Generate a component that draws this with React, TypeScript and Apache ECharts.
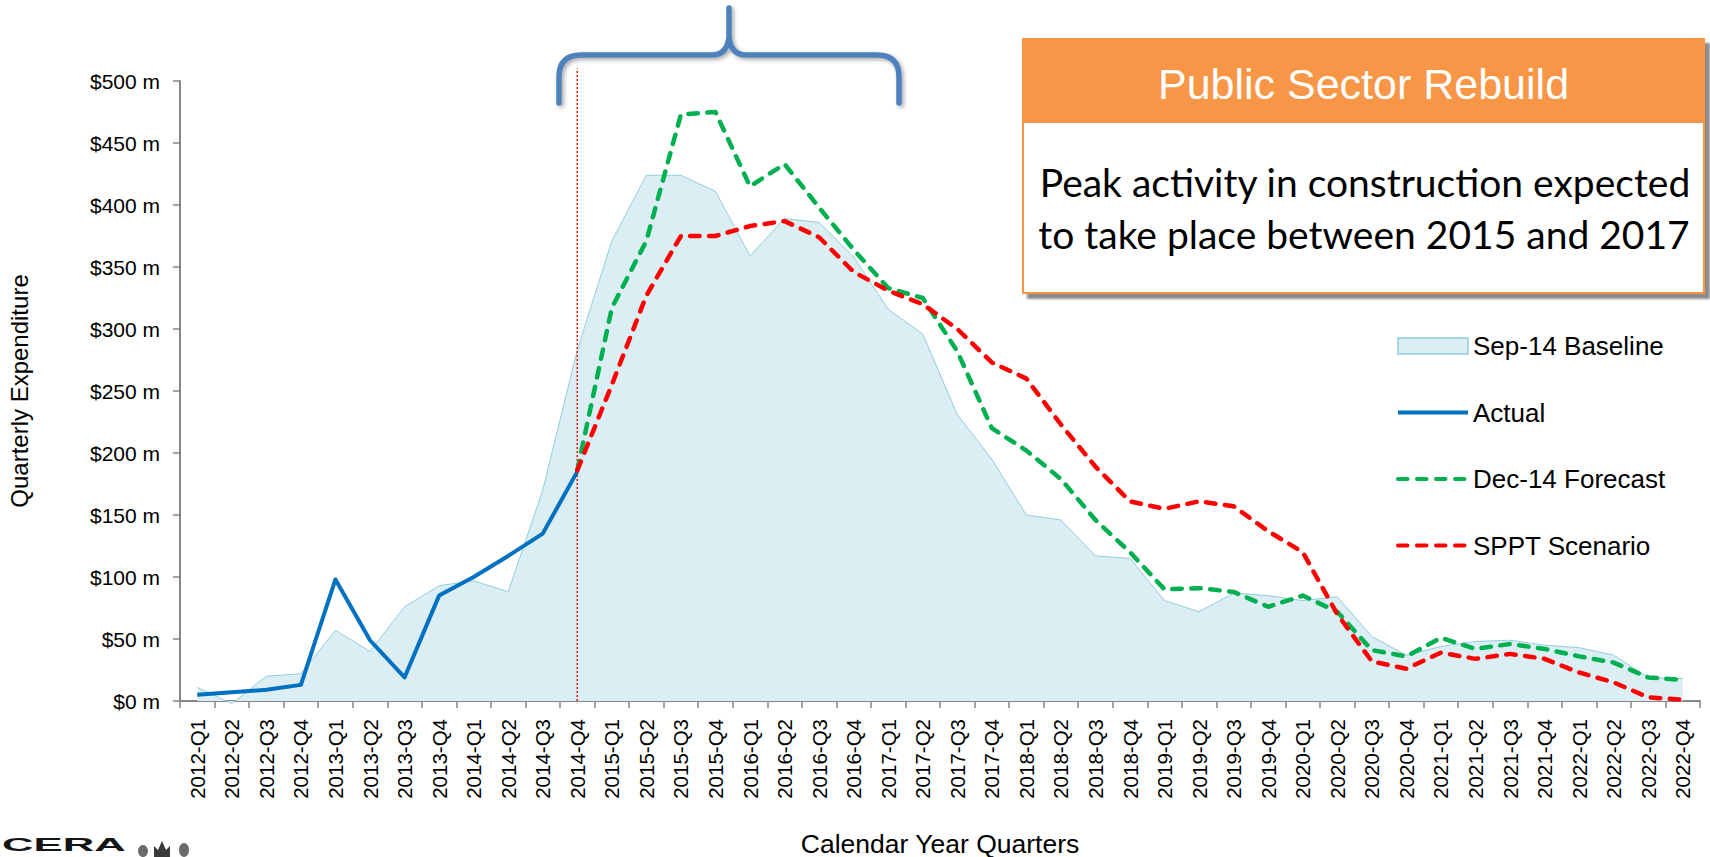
import React, { useEffect, useRef } from "react";
import * as echarts from "echarts";

const categories = [
  "2012-Q1", "2012-Q2", "2012-Q3", "2012-Q4",
  "2013-Q1", "2013-Q2", "2013-Q3", "2013-Q4",
  "2014-Q1", "2014-Q2", "2014-Q3", "2014-Q4",
  "2015-Q1", "2015-Q2", "2015-Q3", "2015-Q4",
  "2016-Q1", "2016-Q2", "2016-Q3", "2016-Q4",
  "2017-Q1", "2017-Q2", "2017-Q3", "2017-Q4",
  "2018-Q1", "2018-Q2", "2018-Q3", "2018-Q4",
  "2019-Q1", "2019-Q2", "2019-Q3", "2019-Q4",
  "2020-Q1", "2020-Q2", "2020-Q3", "2020-Q4",
  "2021-Q1", "2021-Q2", "2021-Q3", "2021-Q4",
  "2022-Q1", "2022-Q2", "2022-Q3", "2022-Q4",
];

// Sep-14 Baseline ($m), every quarter
const baselineValues = [
  11, -2, 20, 22, 57, 40, 76, 93, 97, 88, 170, 283,
  371, 424, 424, 411, 359, 389, 386, 358, 316, 296, 231, 195,
  150, 146, 117, 115, 81, 72, 87, 85, 81, 84, 52, 37,
  44, 48, 49, 45, 43, 37, 19, 18,
];

// Actual ($m), 2012-Q1 .. 2014-Q4
const actualStart = 0;
const actualValues = [5, 7, 9, 13, 98, 49, 19, 85, 100, 117, 135, 185];

// Dec-14 Forecast ($m), 2014-Q4 .. 2022-Q4
const forecastStart = 11;
const forecastValues = [
  186, 317, 371, 473, 475, 415, 433, 398, 364, 333, 325, 282, 220,
  202, 179, 146, 120, 90, 91, 88, 76, 85, 72, 41, 36, 51, 42, 46, 42,
  36, 31, 19, 17,
];

// SPPT Scenario ($m), 2014-Q4 .. 2022-Q4
const scenarioStart = 11;
const scenarioValues = [
  186, 255, 327, 375, 375, 383, 387, 374, 346, 331, 320, 300, 273,
  260, 223, 189, 161, 155, 161, 157, 137, 120, 70, 32, 26, 39, 34, 38, 34,
  23, 15, 3, 1,
];

const yMin = 0;
const yMax = 500;
const yInterval = 50;
const splitQuarter = "2014-Q4";

const FONT = "'Liberation Sans', Arial, Helvetica, sans-serif";

const place = (vals: number[], start: number) =>
  categories.map((_, i) =>
    i >= start && i < start + vals.length ? vals[i - start] : null
  );

const BRACE_D =
  "M559,103 L559,77 Q559,55 581,55 L712,55 Q727,55 729,37 L729,8 M729,37 Q731,55 746,55 L877,55 Q899,55 899,77 L899,103";

export default function App() {
  const ref = useRef<HTMLDivElement>(null);

  useEffect(() => {
    if (!ref.current) return;
    echarts.graphic.registerShape(
      "brace",
      echarts.graphic.extendPath(BRACE_D, {}) as any
    );
    const chart = echarts.init(ref.current, null, { renderer: "svg" });

    const dash = [9.5, 9.5];

    const option: any = {
      animation: false,
      backgroundColor: "#ffffff",
      textStyle: { fontFamily: FONT },
      grid: {
        left: 180,
        right: 10,
        top: 81,
        bottom: 156,
        containLabel: false,
        outerBoundsMode: "none",
      },
      legend: {
        orient: "vertical",
        left: 1396,
        top: 333,
        padding: 0,
        itemGap: 40.5,
        itemWidth: 70,
        itemHeight: 16,
        selectedMode: false,
        textStyle: { fontSize: 26, color: "#000", fontFamily: FONT },
        lineStyle: { width: 4 },
        data: [
          {
            name: "Sep-14 Baseline",
            icon: "rect",
            itemStyle: { color: "#DAEEF3", borderColor: "#93CDDD", borderWidth: 1.5 },
          },
          { name: "Actual", itemStyle: { opacity: 0 } },
          { name: "Dec-14 Forecast", itemStyle: { opacity: 0 } },
          { name: "SPPT Scenario", itemStyle: { opacity: 0 } },
        ],
      },
      xAxis: {
        type: "category",
        data: categories,
        boundaryGap: true,
        name: "Calendar Year Quarters",
        nameLocation: "middle",
        nameGap: 129,
        nameTextStyle: { fontSize: 26.5, color: "#000", fontFamily: FONT },
        axisLine: { lineStyle: { color: "#868686", width: 2 } },
        axisTick: { show: true, length: 7, interval: 0, lineStyle: { color: "#868686", width: 1.5 } },
        axisLabel: {
          rotate: 90,
          interval: 0,
          margin: 18,
          fontSize: 20.5,
          color: "#000",
          fontFamily: FONT,
        },
        splitLine: { show: false },
      },
      yAxis: {
        type: "value",
        min: yMin,
        max: yMax,
        interval: yInterval,
        name: "Quarterly Expenditure",
        nameLocation: "middle",
        nameGap: 149,
        nameTextStyle: { fontSize: 24, color: "#000", fontFamily: FONT },
        axisLine: { show: true, lineStyle: { color: "#868686", width: 2 } },
        axisTick: { show: true, length: 7, lineStyle: { color: "#868686", width: 1.5 } },
        axisLabel: {
          margin: 20,
          fontSize: 21,
          color: "#000",
          fontFamily: FONT,
          formatter: (v: number) => `$${v} m`,
        },
        splitLine: { show: false },
      },
      series: [
        {
          name: "Sep-14 Baseline",
          type: "line",
          data: baselineValues,
          symbol: "none",
          clip: false,
          z: 1,
          lineStyle: { color: "#93CDDD", width: 1 },
          itemStyle: { color: "#93CDDD" },
          areaStyle: { color: "#DAEEF3", opacity: 1 },
        },
        {
          name: "Actual",
          type: "line",
          data: place(actualValues, actualStart),
          symbol: "none",
          z: 3,
          lineStyle: { color: "#0070C0", width: 4, join: "round" },
          itemStyle: { color: "#0070C0" },
        },
        {
          name: "Dec-14 Forecast",
          type: "line",
          data: place(forecastValues, forecastStart),
          symbol: "none",
          z: 3,
          lineStyle: { color: "#00B050", width: 4.5, type: dash, cap: "round", join: "round" },
          itemStyle: { color: "#00B050" },
        },
        {
          name: "SPPT Scenario",
          type: "line",
          data: place(scenarioValues, scenarioStart),
          symbol: "none",
          z: 4,
          lineStyle: { color: "#FF0000", width: 4.5, type: dash, cap: "round", join: "round" },
          itemStyle: { color: "#FF0000" },
        },
      ],
    };

    chart.setOption(option);

    const xSplit = chart.convertToPixel({ xAxisIndex: 0 }, splitQuarter) as number;
    const yZero = chart.convertToPixel({ yAxisIndex: 0 }, 0) as number;
    const yAbove = chart.convertToPixel({ yAxisIndex: 0 }, 510) as number;

    chart.setOption({
      graphic: [
        {
          type: "line",
          z: 2,
          silent: true,
          shape: { x1: xSplit, y1: yZero, x2: xSplit, y2: yAbove },
          style: { stroke: "#FF0000", lineWidth: 1.5, lineDash: [2, 2] },
        },
        {
          type: "brace",
          z: 10,
          x: 0,
          y: 0,
          silent: true,
          style: {
            fill: "none",
            stroke: "#4F81BD",
            lineWidth: 5.5,
            lineCap: "round",
            lineJoin: "round",
            shadowBlur: 4,
            shadowColor: "rgba(0,0,0,0.35)",
            shadowOffsetX: 2,
            shadowOffsetY: 2,
          },
        },
        {
          type: "rect",
          z: 10,
          silent: true,
          shape: { x: 1023, y: 39, width: 681, height: 254 },
          style: {
            fill: "#ffffff",
            stroke: "#F79646",
            lineWidth: 2,
            shadowBlur: 2,
            shadowColor: "rgba(0,0,0,0.45)",
            shadowOffsetX: 5,
            shadowOffsetY: 5,
          },
        },
        {
          type: "rect",
          z: 11,
          silent: true,
          shape: { x: 1023, y: 39, width: 681, height: 84 },
          style: { fill: "#F79646" },
        },
        {
          type: "text",
          z: 12,
          silent: true,
          x: 1363.5,
          y: 84,
          style: {
            text: "Public Sector Rebuild",
            fill: "#ffffff",
            font: `43px ${FONT}`,
            align: "center",
            verticalAlign: "middle",
          },
        },
        {
          type: "text",
          z: 12,
          silent: true,
          x: 1365,
          y: 182,
          style: {
            text: "Peak activity in construction expected",
            fill: "#000000",
            font: `39px Lato, 'Noto Sans', sans-serif`,
            align: "center",
            verticalAlign: "middle",
          },
        },
        {
          type: "text",
          z: 12,
          silent: true,
          x: 1364,
          y: 234,
          style: {
            text: "to take place between 2015 and 2017",
            fill: "#000000",
            font: `39px Lato, 'Noto Sans', sans-serif`,
            align: "center",
            verticalAlign: "middle",
          },
        },
        {
          type: "text",
          z: 12,
          silent: true,
          x: 2,
          y: 835,
          scaleX: 2.3,
          scaleY: 1,
          style: {
            text: "CERA",
            fill: "#141414",
            font: `bold 19px ${FONT}`,
            align: "left",
            verticalAlign: "top",
          },
        },
        {
          type: "polygon",
          z: 12,
          silent: true,
          shape: {
            points: [
              [154, 857], [154, 846], [158, 850], [162, 841], [166, 850], [170, 846], [170, 857],
            ],
          },
          style: { fill: "#3a3a3a" },
        },
        {
          type: "ellipse",
          z: 12,
          silent: true,
          shape: { cx: 143, cy: 851, rx: 5, ry: 6 },
          style: { fill: "#6a6a6a" },
        },
        {
          type: "ellipse",
          z: 12,
          silent: true,
          shape: { cx: 184, cy: 850, rx: 5, ry: 7 },
          style: { fill: "#6a6a6a" },
        },
      ],
    });

    return () => chart.dispose();
  }, []);

  return (
    <div
      ref={ref}
      style={{ position: "fixed", left: 0, top: 0, width: 1710, height: 857 }}
    />
  );
}
